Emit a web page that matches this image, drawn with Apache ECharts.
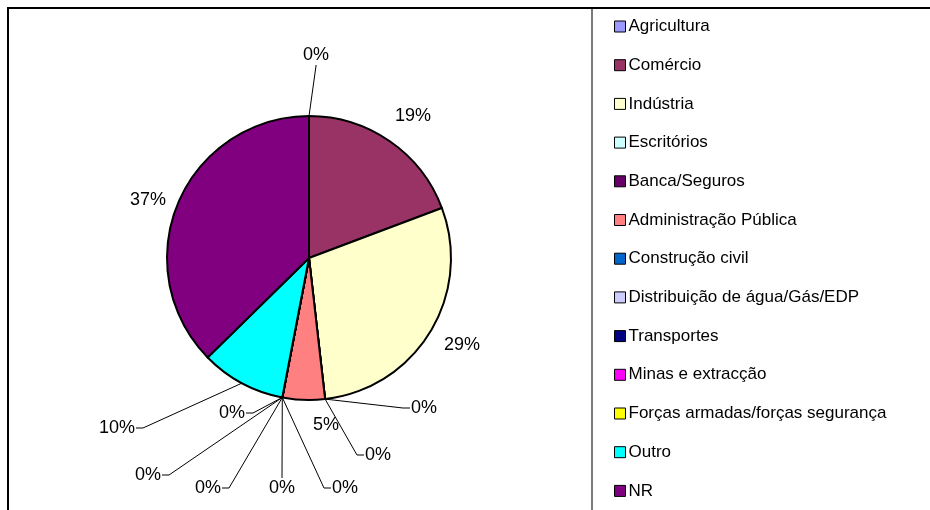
<!DOCTYPE html>
<html>
<head>
<meta charset="utf-8">
<script src="https://cdn.jsdelivr.net/npm/echarts@6/dist/echarts.min.js"></script>
<style>
  html, body { margin: 0; padding: 0; background: #fff; }
  #chart { width: 930px; height: 510px; }
</style>
</head>
<body>
<div id="chart"></div>
<script>
// ---- data ----
const categories = [
  'Agricultura', 'Comércio', 'Indústria', 'Escritórios', 'Banca/Seguros',
  'Administração Pública', 'Construção civil', 'Distribuição de água/Gás/EDP',
  'Transportes', 'Minas e extracção', 'Forças armadas/forças segurança', 'Outro', 'NR'
];
const values = [0, 16, 24, 0, 0, 4, 0, 0, 0, 0, 0, 8, 31];

// ---- styles / layout (not data) ----
const colors = ['#9999FF', '#993366', '#FFFFCC', '#CCFFFF', '#660066', '#FF8080',
  '#0066CC', '#CCCCFF', '#000080', '#FF00FF', '#FFFF00', '#00FFFF', '#800080'];
// label text centre and side of the label that the leader line reaches ('' = no leader)
const labelPlacement = [
  [316, 55, 'b'], [413, 116, ''], [462, 345, ''], [424, 408, 'l'],
  [378, 455, 'l'], [326, 425, ''], [345, 488, 'l'], [282, 488, 't'],
  [208, 488, 'r'], [148, 475, 'r'], [232, 413, 'r'], [117, 428, 'r'], [148, 200, '']
];
const PIE_CENTER = [309, 258];
const PIE_RADIUS = 142;
const LEADER_TAIL = 7;

const total = values.reduce((a, b) => a + b, 0);
function midAnglePoint(i) {
  let before = 0;
  for (let k = 0; k < i; k++) before += values[k];
  const mid = (before + values[i] / 2) / total * Math.PI * 2; // clockwise from 12 o'clock
  return [PIE_CENTER[0] + PIE_RADIUS * Math.sin(mid), PIE_CENTER[1] - PIE_RADIUS * Math.cos(mid)];
}

const chart = echarts.init(document.getElementById('chart'), null, { renderer: 'canvas' });
const FONT = '"Liberation Sans", Arial, sans-serif';

chart.setOption({
  animation: false,
  color: colors,
  graphic: [
    { type: 'rect', shape: { x: 8, y: 8, width: 940, height: 530 },
      style: { fill: 'none', stroke: '#000', lineWidth: 2 }, silent: true },
    { type: 'line', shape: { x1: 592, y1: 9, x2: 592, y2: 510 },
      style: { stroke: '#7a7a7a', lineWidth: 2 }, silent: true }
  ],
  legend: {
    orient: 'vertical',
    left: 614,
    top: 18,
    height: 492,
    padding: 0,
    itemWidth: 11,
    itemHeight: 11,
    itemGap: 21.7,
    icon: 'rect',
    selectedMode: false,
    itemStyle: { borderColor: '#000', borderWidth: 1 },
    textStyle: { fontFamily: FONT, fontSize: 17, color: '#000', lineHeight: 17, padding: [0, 0, 0, -2] },
    data: categories
  },
  series: [{
    type: 'pie',
    center: PIE_CENTER,
    radius: PIE_RADIUS,
    startAngle: 90,
    clockwise: true,
    avoidLabelOverlap: false,
    minShowLabelAngle: 0,
    itemStyle: { borderColor: '#000', borderWidth: 2 },
    emphasis: { disabled: true },
    label: {
      show: true,
      position: 'outside',
      fontFamily: FONT,
      fontSize: 18,
      color: '#000',
      formatter: p => Math.round(p.percent) + '%'
    },
    labelLine: { show: true, length: 10, length2: 8, lineStyle: { color: '#000', width: 1 } },
    labelLayout: function (params) {
      const i = params.dataIndex;
      const pl = labelPlacement[i];
      const out = { x: pl[0], y: pl[1], align: 'center', verticalAlign: 'middle' };
      if (pl[2]) {
        const w = params.labelRect.width, h = params.labelRect.height;
        const a = midAnglePoint(i);
        let end, knee;
        if (pl[2] === 'l') { end = [pl[0] - w / 2 - 1, pl[1]]; knee = [end[0] - LEADER_TAIL, end[1]]; }
        else if (pl[2] === 'r') { end = [pl[0] + w / 2 + 1, pl[1]]; knee = [end[0] + LEADER_TAIL, end[1]]; }
        else if (pl[2] === 't') { end = [pl[0], pl[1] - h / 2 - 1]; knee = [end[0], end[1] - 1]; }
        else { end = [pl[0], pl[1] + h / 2 + 1]; knee = [end[0], end[1] + 1]; }
        out.labelLinePoints = [a, knee, end];
      }
      return out;
    },
    data: categories.map((name, i) => ({
      name: name,
      value: values[i],
      labelLine: { show: !!labelPlacement[i][2] }
    }))
  }]
});
</script>
</body>
</html>
